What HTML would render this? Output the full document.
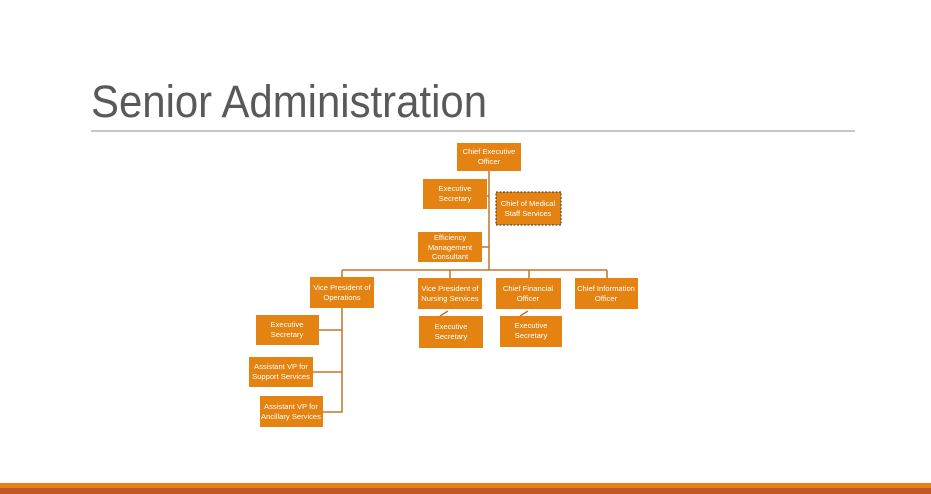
<!DOCTYPE html>
<html><head><style>body{margin:0;background:#fff}svg{display:block}</style></head><body>
<svg width="931" height="494" xmlns="http://www.w3.org/2000/svg" font-family="Liberation Sans, sans-serif">
<rect width="931" height="494" fill="#fff"/>
<text x="91" y="117" font-size="45" fill="#595959" textLength="396" lengthAdjust="spacingAndGlyphs">Senior Administration</text>
<line x1="91" y1="131" x2="855" y2="131" stroke="#8c8c8c" stroke-width="1"/>
<g stroke="#c0752a" stroke-width="1.5" fill="none">
<path d="M489 171V270M342 270H607M342 270V277M450 270V278M529 270V278M607 270V278"/>
<path d="M487 196H489M482 247H489"/>
<path d="M342 308V412H323M342 330H319M342 372H313"/>
<path d="M440 316L448 311M520 316L528 311"/>
</g>
<g fill="#e48312">
<rect x="457" y="143" width="64" height="28"/>
<rect x="423" y="179" width="64" height="30"/>
<rect x="496" y="192" width="65" height="33" stroke="#333" stroke-dasharray="2,1.5" stroke-width="1"/>
<rect x="418" y="232" width="64" height="30"/>
<rect x="310" y="277" width="64" height="31"/>
<rect x="418" y="278" width="64" height="31"/>
<rect x="496" y="278" width="65" height="31"/>
<rect x="575" y="278" width="63" height="31"/>
<rect x="256" y="315" width="63" height="30"/>
<rect x="249" y="357" width="64" height="30"/>
<rect x="260" y="396" width="63" height="31"/>
<rect x="419" y="316" width="64" height="32"/>
<rect x="500" y="316" width="62" height="31"/>
</g>
<g fill="#fff" font-size="7.6" text-anchor="middle">
<text x="489" y="154">Chief Executive</text><text x="489" y="164">Officer</text>
<text x="455" y="191">Executive</text><text x="455" y="201">Secretary</text>
<text x="528" y="206">Chief of Medical</text><text x="528" y="216">Staff Services</text>
<text x="450" y="240">Efficiency</text><text x="450" y="250">Management</text><text x="450" y="259">Consultant</text>
<text x="342" y="290">Vice President of</text><text x="342" y="300">Operations</text>
<text x="450" y="291">Vice President of</text><text x="450" y="301">Nursing Services</text>
<text x="528" y="291">Chief Financial</text><text x="528" y="301">Officer</text>
<text x="606" y="291">Chief Information</text><text x="606" y="301">Officer</text>
<text x="287" y="327">Executive</text><text x="287" y="337">Secretary</text>
<text x="281" y="369">Assistant VP for</text><text x="281" y="379">Support Services</text>
<text x="291" y="409">Assistant VP for</text><text x="291" y="419">Ancillary Services</text>
<text x="451" y="329">Executive</text><text x="451" y="339">Secretary</text>
<text x="531" y="328">Executive</text><text x="531" y="338">Secretary</text>
</g>
<rect x="0" y="483" width="931" height="5" fill="#e48312"/>
<rect x="0" y="488" width="931" height="6" fill="#c0572a"/>
</svg>
</body></html>
